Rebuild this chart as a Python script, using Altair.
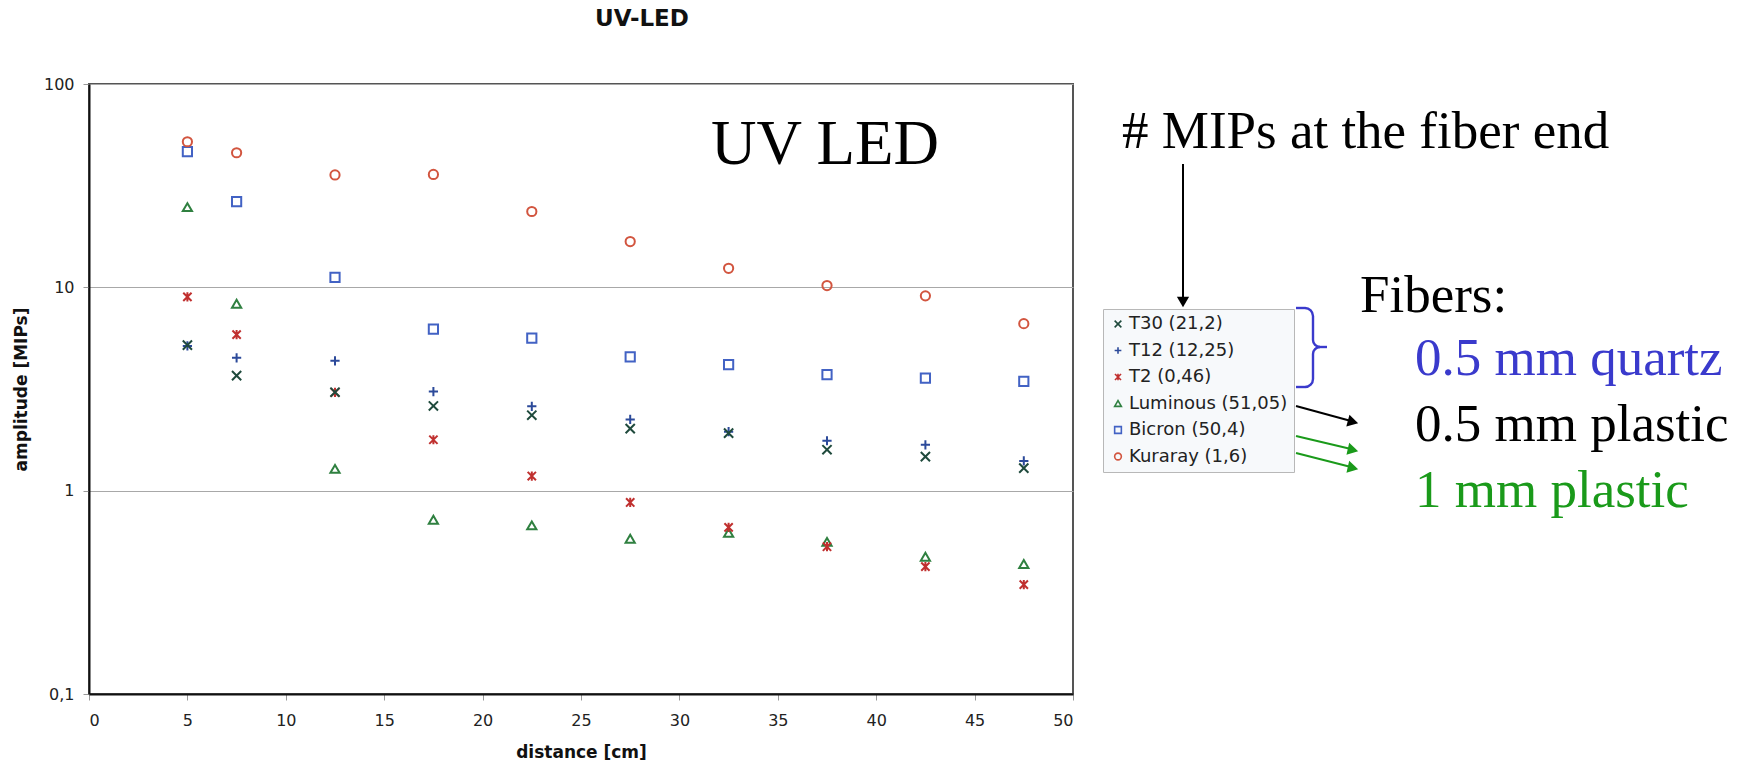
import altair as alt
import pandas as pd
import math

# ---------------- data ----------------
distance = [5, 7.5, 12.5, 17.5, 22.5, 27.5, 32.5, 37.5, 42.5, 47.5]
t30 = [5.2, 3.68, 3.05, 2.61, 2.35, 2.02, 1.92, 1.59, 1.47, 1.29]
t12 = [5.15, 4.5, 4.35, 3.07, 2.6, 2.24, 1.95, 1.76, 1.68, 1.40]
t2 = [8.97, 5.85, 3.04, 1.78, 1.18, 0.875, 0.66, 0.53, 0.423, 0.345]
luminous = [24.8, 8.3, 1.28, 0.72, 0.675, 0.58, 0.62, 0.56, 0.473, 0.436]
bicron = [46.5, 26.4, 11.2, 6.23, 5.63, 4.55, 4.17, 3.72, 3.58, 3.45]
kuraray = [52, 45.9, 35.7, 35.9, 23.6, 16.8, 12.4, 10.2, 9.08, 6.63]

series_names = ["T30 (21,2)", "T12 (12,25)", "T2 (0,46)",
                "Luminous (51,05)", "Bicron (50,4)", "Kuraray (1,6)"]
series_values = [t30, t12, t2, luminous, bicron, kuraray]
series_colors = ["#1f4a3c", "#2c4a9a", "#c0302f", "#2f8040", "#4262c4", "#d2553f"]
series_shapes = [
    "M-1,-1L1,1M-1,1L1,-1",
    "M-1,0L1,0M0,-1L0,1",
    "M-0.9,-0.9L0.9,0.9M-0.9,0.9L0.9,-0.9M0,-1L0,1",
    "triangle-up",
    "square",
    "circle",
]

x_ticks = [0, 5, 10, 15, 20, 25, 30, 35, 40, 45, 50]
y_ticks = [0.1, 1, 10, 100]

rows = []
for name, vals in zip(series_names, series_values):
    for d, v in zip(distance, vals):
        rows.append({"distance": d, "amplitude": v, "series": name})
df = pd.DataFrame(rows)

W, H = 984, 610

points = alt.Chart(df).mark_point(filled=False, size=85, strokeWidth=2, opacity=1).encode(
    x=alt.X("distance:Q",
            scale=alt.Scale(domain=[0, 50], nice=False, zero=False),
            axis=alt.Axis(values=x_ticks, title="distance [cm]", grid=False,
                          labelFont="DejaVu Sans", labelFontSize=16, labelColor="#222",
                          labelPadding=12, tickSize=6, tickColor="#999",
                          domainColor="#111", domainWidth=2,
                          titleFont="DejaVu Sans", titleFontSize=17, titleFontWeight="bold",
                          titleColor="#111", titleY=58, titleBaseline="middle")),
    y=alt.Y("amplitude:Q",
            scale=alt.Scale(type="log", domain=[0.1, 100], nice=False),
            axis=alt.Axis(values=y_ticks, title="amplitude [MIPs]",
                          labelExpr="replace(toString(datum.value), '.', ',')",
                          grid=True, gridColor="#a8a8a8", gridWidth=1.2,
                          labelFont="DejaVu Sans", labelFontSize=16, labelColor="#222",
                          labelPadding=9, tickSize=6, tickColor="#999",
                          domainColor="#111", domainWidth=2,
                          titleFont="DejaVu Sans", titleFontSize=17, titleFontWeight="bold",
                          titleColor="#111", titleX=-68, titleBaseline="middle")),
    color=alt.Color("series:N",
                    scale=alt.Scale(domain=series_names, range=series_colors),
                    legend=alt.Legend(orient="none", legendX=1014, legendY=225, title=None,
                                      padding=6, fillColor="#f7f9fb", strokeColor="#b8b8b8",
                                      labelFont="DejaVu Sans", labelFontSize=18, labelColor="#222",
                                      symbolSize=45, symbolStrokeWidth=1.6, rowPadding=8.5,
                                      labelOffset=2, labelLimit=300)),
    shape=alt.Shape("series:N",
                    scale=alt.Scale(domain=series_names, range=series_shapes),
                    legend=alt.Legend(orient="none", legendX=1014, legendY=225, title=None)),
    order=alt.Order("series:N"),
)

one = alt.Data(values=[{"k": 1}])
BLUE = "#3a3acc"
GREEN = "#1a9a1a"


def label(text, x, y, size, color="#000", font="Liberation Serif", weight="normal",
          align="left", baseline="alphabetic"):
    return alt.Chart(one).mark_text(text=text, font=font, fontSize=size, color=color,
                                    fontWeight=weight, align=align, baseline=baseline).encode(
        x=alt.value(x), y=alt.value(y))


def rule(x1, y1, x2, y2, color="#000", width=2):
    return alt.Chart(one).mark_rule(color=color, strokeWidth=width).encode(
        x=alt.value(x1), y=alt.value(y1), x2=alt.value(x2), y2=alt.value(y2))


def head(x, y, shape, angle, color="#000", size=150):
    return alt.Chart(one).mark_point(shape=shape, filled=True, size=size, color=color,
                                     opacity=1, angle=angle, strokeWidth=0).encode(
        x=alt.value(x), y=alt.value(y))


def arc(cx, cy, r, a0, a1, color=BLUE, w=2.4):
    return alt.Chart(one).mark_arc(color=color).encode(
        x=alt.value(cx), y=alt.value(cy),
        radius=alt.value(r + w / 2), radius2=alt.value(r - w / 2),
        theta=alt.value(math.radians(a0)), theta2=alt.value(math.radians(a1)))


# curly brace next to the first three legend entries
brace = [
    rule(1207, 224, 1216, 224, BLUE, 2.4),
    arc(1216, 232, 8, 0, 90),
    rule(1224, 232, 1224, 256, BLUE, 2.4),
    arc(1231, 256, 7, 180, 270),
    rule(1231, 263, 1238, 263, BLUE, 2.4),
    arc(1231, 270, 7, 270, 360),
    rule(1224, 270, 1224, 295, BLUE, 2.4),
    arc(1216, 295, 8, 90, 180),
    rule(1207, 303, 1216, 303, BLUE, 2.4),
]

layers = [
    points,
    label("UV-LED", 553, -65, 23, "#111", "DejaVu Sans", "bold", "center", "middle"),
    label("UV LED", 622, 80, 63),
    label("# MIPs at the fiber end", 1033, 64, 53),
    label("Fibers:", 1271, 228, 53),
    label("0.5 mm quartz", 1326, 291, 53, BLUE),
    label("0.5 mm plastic", 1326, 357, 53, "#000"),
    label("1 mm plastic", 1326, 423, 53, GREEN),
    *brace,
    rule(1094, 80, 1094, 216),
    head(1094, 218, "triangle-down", 0),
    rule(1207, 322, 1262, 337),
    head(1264, 338, "triangle-right", 15),
    rule(1207, 352, 1262, 365, GREEN),
    head(1264, 366, "triangle-right", 13, GREEN),
    rule(1207, 369, 1262, 383, GREEN),
    head(1264, 384, "triangle-right", 13, GREEN),
]

chart = alt.layer(*layers).properties(
    width=W, height=H,
    autosize=alt.AutoSizeParams(type="none"),
    padding={"left": 89, "top": 84, "right": 1745 - 89 - W, "bottom": 764 - 84 - H},
    background="white",
).configure_view(stroke="#555", strokeWidth=2)

chart.save("out.html", embed_options={"renderer": "svg", "actions": False})
